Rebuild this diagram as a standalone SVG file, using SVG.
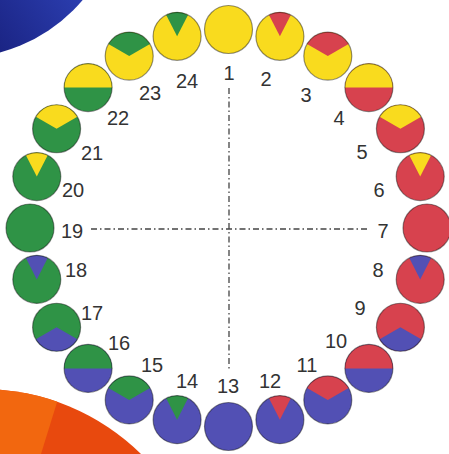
<svg xmlns="http://www.w3.org/2000/svg" xmlns:xlink="http://www.w3.org/1999/xlink" width="449" height="454" viewBox="0 0 449 454">
<style>
.y{fill:#F9DB1E}
.r{fill:#D7424E}
.g{fill:#2F9346}
.b{fill:#5250B4}
.o{fill:none;stroke:#000;stroke-opacity:0.42;stroke-width:1.2}
.t{font-family:"Liberation Sans",Arial,sans-serif;font-size:20px;fill:#333;text-anchor:middle}
.ax{stroke:#444;stroke-width:1.3;stroke-dasharray:6 3 1.5 3;fill:none}
</style>
<defs>
<path id="wedge" d="M0,0 L-10.9,-21.4 A24,24 0 0 1 10.9,-21.4 Z"/>
<path id="vtop" d="M0,0 L-20.78,-12 A24,24 0 0 1 20.78,-12 Z"/>
<path id="half" d="M-24,0 A24,24 0 0 1 24,0 Z"/>
<path id="vbot" d="M0,0 L20.78,12 A24,24 0 0 1 -20.78,12 Z"/>
<circle id="ring" r="24"/>
<linearGradient id="blueg" x1="90" y1="0" x2="0" y2="60" gradientUnits="userSpaceOnUse">
<stop offset="0" stop-color="#2C3FB2"/>
<stop offset="1" stop-color="#1A2382"/>
</linearGradient>
<clipPath id="oc"><circle cx="-18" cy="616" r="227"/></clipPath>
</defs>
<rect width="449" height="454" fill="#fff"/>
<circle cx="-42" cy="-105" r="163" fill="url(#blueg)"/>
<g clip-path="url(#oc)">
<rect x="0" y="370" width="200" height="84" fill="#E8490E"/>
<polygon points="0,370 67,370 41,454 0,454" fill="#F2670F"/>
</g>
<g id="connectors">
<line class="ax" x1="229" y1="88" x2="229" y2="370"/>
<line class="ax" x1="91" y1="229" x2="370" y2="229"/>
</g>
<g id="n1"><g transform="translate(228.5,29.5)"><use href="#ring" class="y"/><use href="#ring" class="o"/></g><text class="t" x="229" y="80">1</text></g>
<g id="n2"><g transform="translate(279.9,36.3)"><use href="#ring" class="y"/><use href="#wedge" class="r"/><use href="#ring" class="o"/></g><text class="t" x="266" y="86">2</text></g>
<g id="n3"><g transform="translate(327.8,56.1)"><use href="#ring" class="y"/><use href="#vtop" class="r"/><use href="#ring" class="o"/></g><text class="t" x="306" y="102">3</text></g>
<g id="n4"><g transform="translate(368.9,87.6)"><use href="#ring" class="r"/><use href="#half" class="y"/><use href="#ring" class="o"/></g><text class="t" x="339" y="125">4</text></g>
<g id="n5"><g transform="translate(400.4,128.75)"><use href="#ring" class="r"/><use href="#vtop" class="y"/><use href="#ring" class="o"/></g><text class="t" x="362" y="159">5</text></g>
<g id="n6"><g transform="translate(420.2,176.6)"><use href="#ring" class="r"/><use href="#wedge" class="y"/><use href="#ring" class="o"/></g><text class="t" x="379" y="197">6</text></g>
<g id="n7"><g transform="translate(427,228)"><use href="#ring" class="r"/><use href="#ring" class="o"/></g><text class="t" x="383" y="238">7</text></g>
<g id="n8"><g transform="translate(420.2,279.4)"><use href="#ring" class="r"/><use href="#wedge" class="b"/><use href="#ring" class="o"/></g><text class="t" x="378" y="277">8</text></g>
<g id="n9"><g transform="translate(400.4,327.25)"><use href="#ring" class="r"/><use href="#vbot" class="b"/><use href="#ring" class="o"/></g><text class="t" x="360" y="315">9</text></g>
<g id="n10"><g transform="translate(368.9,368.4)"><use href="#ring" class="b"/><use href="#half" class="r"/><use href="#ring" class="o"/></g><text class="t" x="336" y="348">10</text></g>
<g id="n11"><g transform="translate(327.8,399.9)"><use href="#ring" class="b"/><use href="#vtop" class="r"/><use href="#ring" class="o"/></g><text class="t" x="307" y="372">11</text></g>
<g id="n12"><g transform="translate(279.9,419.7)"><use href="#ring" class="b"/><use href="#wedge" class="r"/><use href="#ring" class="o"/></g><text class="t" x="270" y="388">12</text></g>
<g id="n13"><g transform="translate(228.5,426.5)"><use href="#ring" class="b"/><use href="#ring" class="o"/></g><text class="t" x="228" y="393">13</text></g>
<g id="n14"><g transform="translate(177.1,419.7)"><use href="#ring" class="b"/><use href="#wedge" class="g"/><use href="#ring" class="o"/></g><text class="t" x="187" y="388">14</text></g>
<g id="n15"><g transform="translate(129.2,399.9)"><use href="#ring" class="b"/><use href="#vtop" class="g"/><use href="#ring" class="o"/></g><text class="t" x="152" y="372">15</text></g>
<g id="n16"><g transform="translate(88.1,368.4)"><use href="#ring" class="b"/><use href="#half" class="g"/><use href="#ring" class="o"/></g><text class="t" x="119" y="350">16</text></g>
<g id="n17"><g transform="translate(56.6,327.25)"><use href="#ring" class="g"/><use href="#vbot" class="b"/><use href="#ring" class="o"/></g><text class="t" x="92" y="320">17</text></g>
<g id="n18"><g transform="translate(36.8,279.4)"><use href="#ring" class="g"/><use href="#wedge" class="b"/><use href="#ring" class="o"/></g><text class="t" x="76" y="277">18</text></g>
<g id="n19"><g transform="translate(30,228)"><use href="#ring" class="g"/><use href="#ring" class="o"/></g><text class="t" x="72" y="238">19</text></g>
<g id="n20"><g transform="translate(36.8,176.6)"><use href="#ring" class="g"/><use href="#wedge" class="y"/><use href="#ring" class="o"/></g><text class="t" x="73" y="197">20</text></g>
<g id="n21"><g transform="translate(56.6,128.75)"><use href="#ring" class="g"/><use href="#vtop" class="y"/><use href="#ring" class="o"/></g><text class="t" x="92" y="160">21</text></g>
<g id="n22"><g transform="translate(88.1,87.6)"><use href="#ring" class="g"/><use href="#half" class="y"/><use href="#ring" class="o"/></g><text class="t" x="118" y="125">22</text></g>
<g id="n23"><g transform="translate(129.2,56.1)"><use href="#ring" class="y"/><use href="#vtop" class="g"/><use href="#ring" class="o"/></g><text class="t" x="150" y="100">23</text></g>
<g id="n24"><g transform="translate(177.1,36.3)"><use href="#ring" class="y"/><use href="#wedge" class="g"/><use href="#ring" class="o"/></g><text class="t" x="187" y="88">24</text></g>
</svg>
